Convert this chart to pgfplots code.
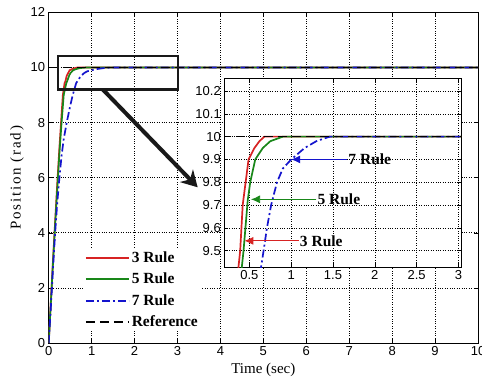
\documentclass[border=0pt]{standalone}
\usepackage{fontspec}
\setmainfont{Liberation Serif}
\setsansfont{Liberation Sans}
\usepackage{pgfplots}
\usepackage{pgfplotstable}
\pgfplotsset{compat=1.18}
\usetikzlibrary{arrows.meta}
\definecolor{cred}{RGB}{215,35,35}
\definecolor{cgreen}{RGB}{25,135,25}
\definecolor{cblue}{RGB}{20,20,205}

\pgfplotstableread{
t y
0 0
0.05 1.5
0.10 3.0
0.15 4.4
0.20 5.8
0.25 7.1
0.30 8.3
0.33 9.0
0.37 9.43
0.39 9.5
0.42 9.7
0.455 9.8
0.49 9.9
0.56 9.95
0.62 9.98
0.68 10
10 10
}\rthree

\pgfplotstableread{
t y
0 0
0.05 1.45
0.10 2.9
0.15 4.3
0.20 5.6
0.25 6.9
0.30 8.0
0.35 9.0
0.41 9.43
0.43 9.5
0.48 9.72
0.51 9.8
0.57 9.9
0.66 9.95
0.75 9.98
0.90 10
10 10
}\rfive

\pgfplotstableread{
t y
0 0
0.05 1.3
0.10 2.7
0.15 4.0
0.20 5.1
0.25 6.0
0.30 6.8
0.35 7.4
0.42 8.0
0.50 8.6
0.56 9.0
0.64 9.43
0.67 9.5
0.71 9.6
0.76 9.7
0.83 9.8
0.90 9.86
1.00 9.9
1.16 9.95
1.30 9.98
1.46 10
10 10
}\rseven

\pgfplotstableread{
t y
0 10
10 10
}\rref

\pgfplotsset{
  mstyle/.style={
    scale only axis,
    axis line style={black, line width=0.6pt},
    tick align=inside,
    major tick length=4pt,
    grid=major,
    major grid style={dotted, black, line width=0.6pt},
    ticklabel style={font=\fontsize{13}{15}\sffamily},
    /pgf/number format/assume math mode=true,
    tick style={black, line width=0.5pt},
  },
  r3/.style={cred, line width=1.7pt},
  r5/.style={cgreen, line width=1.7pt},
  r7/.style={cblue, line width=1.7pt, dash pattern=on 8pt off 3pt on 2pt off 3pt},
  rr/.style={black, line width=1.7pt, dash pattern=on 9pt off 5pt},
}
\newcommand\annfont{\fontsize{15.5}{18}\selectfont\bfseries}

\begin{document}
\begin{tikzpicture}
\begin{axis}[mstyle,
  at={(48.7pt,41pt)}, anchor=south west,
  width=429.3pt, height=330.7pt,
  xmin=0, xmax=10, ymin=0, ymax=12,
  xtick={0,1,...,10}, ytick={0,2,...,12},
  xlabel={Time (sec)}, ylabel={Position (rad)},
  xlabel style={font=\fontsize{15}{17}\selectfont},
  ylabel style={font=\fontsize{15}{17}\selectfont\addfontfeature{LetterSpace=12}},
  legend style={draw=none, fill=white, at={(0.082,0.286)}, anchor=north west,
    font=\annfont, row sep=5.2pt, inner sep=1pt},
  legend cell align=left,
  legend image code/.code={\draw[#1] (0pt,0pt) -- (43pt,0pt);},
]
\addplot[r3] table[x=t,y=y] {\rthree};
\addlegendentry{3 Rule}
\addplot[r5] table[x=t,y=y] {\rfive};
\addlegendentry{5 Rule}
\addplot[r7] table[x=t,y=y] {\rseven};
\addlegendentry{7 Rule}
\addplot[rr] table[x=t,y=y] {\rref};
\addlegendentry{Reference}
\draw[black!90, line width=2.6pt] (axis cs:0.22,9.19) rectangle (axis cs:3.01,10.41);
\draw[black!90, line width=4pt, -{Stealth[length=16pt,width=18pt,inset=5pt]}] (axis cs:1.26,9.2) -- (axis cs:3.47,5.65);
\end{axis}

\begin{axis}[mstyle,
  at={(224.3pt,116.7pt)}, anchor=south west,
  width=236.7pt, height=189pt,
  xmin=0.2, xmax=3.03, ymin=9.427, ymax=10.256,
  xtick={0.5,1,1.5,2,2.5,3},
  ytick={9.5,9.6,9.7,9.8,9.9,10,10.1,10.2},
  yticklabels={9.5,9.6,9.7,9.8,9.9,10,10.1,10.2},
  xticklabels={0.5,1,1.5,2,2.5,3},
  axis background/.style={fill=white},
]
\addplot[r3] table[x=t,y=y] {\rthree};
\addplot[r5] table[x=t,y=y] {\rfive};
\addplot[r7] table[x=t,y=y] {\rseven};
\addplot[rr] table[x=t,y=y] {\rref};
\draw[cblue, line width=0.8pt, -{Latex[length=9pt,width=8pt]}] (axis cs:1.67,9.9) -- (axis cs:1.0,9.9);
\node[anchor=west, inner sep=1pt, font=\annfont] at (axis cs:1.67,9.9) {7 Rule};
\draw[cgreen, line width=0.8pt, -{Latex[length=9pt,width=8pt]}] (axis cs:1.30,9.725) -- (axis cs:0.52,9.725);
\node[anchor=west, inner sep=1pt, font=\annfont] at (axis cs:1.30,9.725) {5 Rule};
\draw[cred, line width=0.8pt, -{Latex[length=9pt,width=8pt]}] (axis cs:1.09,9.543) -- (axis cs:0.44,9.543);
\node[anchor=west, inner sep=1pt, font=\annfont] at (axis cs:1.09,9.543) {3 Rule};
\end{axis}
\pgfresetboundingbox
\useasboundingbox (0,0) rectangle (482pt,384pt);
\end{tikzpicture}
\end{document}
